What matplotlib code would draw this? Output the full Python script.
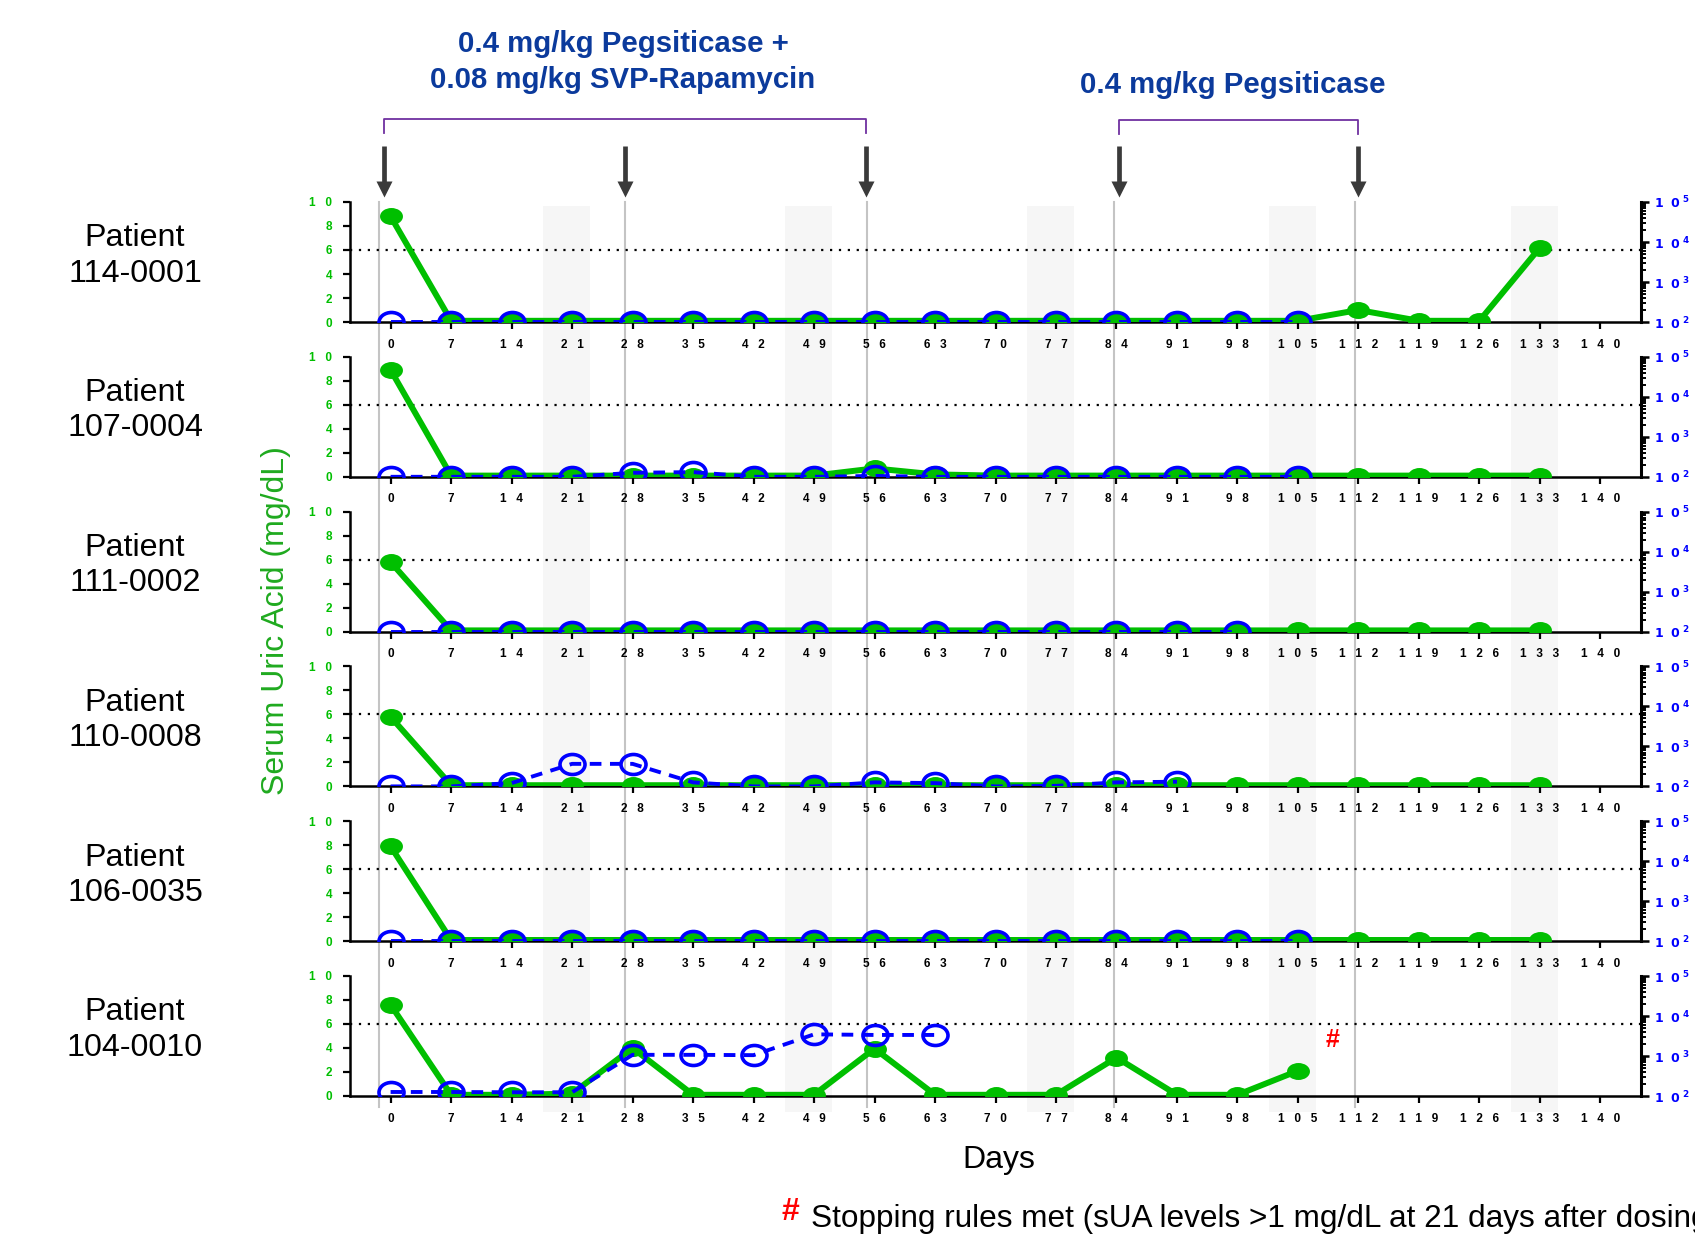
import matplotlib.pyplot as plt
from matplotlib.path import Path
from matplotlib.ticker import NullFormatter

plt.rcParams['font.family'] = ['Liberation Sans', 'DejaVu Sans']

# ---- data ----
patients = ['114-0001', '107-0004', '111-0002', '110-0008', '106-0035', '104-0010']
days = [0, 7, 14, 21, 28, 35, 42, 49, 56, 63, 70, 77, 84, 91, 98, 105, 112, 119, 126, 133]
x_ticks = [0, 7, 14, 21, 28, 35, 42, 49, 56, 63, 70, 77, 84, 91, 98, 105, 112, 119, 126, 133, 140]
dose_days = [0, 28, 56, 84, 112]
shade_days = [21, 49, 77, 105, 133]

# serum uric acid (mg/dL), left axis
sua = [
    [8.8, 0.1, 0.1, 0.1, 0.1, 0.1, 0.1, 0.1, 0.1, 0.1, 0.1, 0.1, 0.1, 0.1, 0.1, 0.1, 1.0, 0.1, 0.1, 6.2],
    [8.9, 0.1, 0.1, 0.1, 0.1, 0.1, 0.1, 0.1, 0.7, 0.2, 0.1, 0.1, 0.1, 0.1, 0.1, 0.1, 0.1, 0.1, 0.1, 0.1],
    [5.8, 0.1, 0.1, 0.1, 0.1, 0.1, 0.1, 0.1, 0.1, 0.1, 0.1, 0.1, 0.1, 0.1, 0.1, 0.1, 0.1, 0.1, 0.1, 0.1],
    [5.8, 0.1, 0.1, 0.1, 0.1, 0.1, 0.1, 0.1, 0.1, 0.1, 0.1, 0.1, 0.1, 0.1, 0.1, 0.1, 0.1, 0.1, 0.1, 0.1],
    [7.9, 0.1, 0.1, 0.1, 0.1, 0.1, 0.1, 0.1, 0.1, 0.1, 0.1, 0.1, 0.1, 0.1, 0.1, 0.1, 0.1, 0.1, 0.1, 0.1],
    [7.6, 0.1, 0.1, 0.2, 4.0, 0.1, 0.1, 0.1, 3.95, 0.1, 0.1, 0.1, 3.2, 0.1, 0.1, 2.1],
]
# anti-drug antibody titer, right (log) axis
titer = [
    [100, 100, 100, 100, 100, 100, 100, 100, 100, 100, 100, 100, 100, 100, 100, 100],
    [100, 100, 100, 100, 126, 131, 100, 100, 105, 100, 100, 100, 100, 100, 100, 100],
    [100, 100, 100, 100, 100, 100, 100, 100, 100, 100, 100, 100, 100, 100, 100],
    [100, 100, 121, 366, 366, 126, 100, 100, 126, 121, 100, 103, 126, 131],
    [100, 100, 100, 100, 100, 100, 100, 100, 100, 100, 100, 100, 100, 100, 100, 100],
    [126, 126, 124, 124, 1070, 1070, 1050, 3480, 3360, 3360],
]

green = '#00bf00'
blue = '#0000ff'
navy = '#0b3a9c'
purple = '#7030a0'

W, H = 1695, 1245
fig = plt.figure(figsize=(W / 100, H / 100), dpi=100)

left_px, right_px = 350, 1641
x0, x1 = -4.7, 144.7
top0, panel_h, step = 202, 120, 154.8
bg_bottom = 1112
# small horizontal nudges of the dose marks, as in the original drawing
arrow_shift = [-0.8, -0.9, -1.0, 0.3, -0.1]
line_shift = [-1.3, -0.9, -0.85, -0.3, -0.35]

# background: shaded weeks, dose lines, arrows, brackets
bg = fig.add_axes([left_px / W, 1 - bg_bottom / H, (right_px - left_px) / W, bg_bottom / H])
bg.set_xlim(x0, x1)
bg.set_ylim(bg_bottom, 0)
bg.axis('off')
for d in shade_days:
    bg.fill_between([d - 3.4, d + 2.1], 206, bg_bottom, color='#f6f6f6', lw=0)
ax_x = []
for d, sa, sl in zip(dose_days, arrow_shift, line_shift):
    bg.plot([d + sl, d + sl], [202, 1107], color='#c4c4c4', lw=1.5)
    bg.plot([d + sa, d + sa], [146, 184], color='#3a3a3a', lw=3.4, solid_capstyle='butt')
    bg.plot(d + sa, 189, marker='v', ms=12, color='#3a3a3a', mec='none')
    ax_x.append(d + sa)

bg.plot([ax_x[0], ax_x[0], ax_x[2], ax_x[2]], [133, 119, 119, 133], color=purple, lw=1.3)
bg.plot([ax_x[3], ax_x[3], ax_x[4], ax_x[4]], [134, 120, 120, 134], color=purple, lw=1.3)

fig.text(623 / W, 1 - 62 / H, '0.4 mg/kg Pegsiticase +\n0.08 mg/kg SVP-Rapamycin',
         ha='center', va='center', fontsize=21.2, fontweight='bold', color=navy, linespacing=1.33)
fig.text(1233 / W, 1 - 85 / H, '0.4 mg/kg Pegsiticase',
         ha='center', va='center', fontsize=21.2, fontweight='bold', color=navy)

# elliptic markers
circ = Path.unit_circle()
ell_green = Path(circ.vertices * [1, 0.74], circ.codes)
ell_blue = Path(circ.vertices * [1, 0.8], circ.codes)

for i, pid in enumerate(patients):
    top = top0 + i * step
    ax = fig.add_axes([left_px / W, 1 - (top + panel_h) / H, (right_px - left_px) / W, panel_h / H])
    ax.patch.set_visible(False)
    ax.set_xlim(x0, x1)
    ax.set_ylim(0, 10)
    ax.axhline(6, color='black', ls=(0, (1, 3)), lw=1.6)
    ax.plot(days[:len(sua[i])], sua[i], color=green, lw=4.3,
            marker=ell_green, ms=16.5, mec='none', mfc=green, zorder=3)

    ax.set_xticks(x_ticks)
    ax.set_xticklabels(['   '.join(str(t)) for t in x_ticks], fontsize=8.5, fontweight='bold')
    ax.set_yticks([0, 2, 4, 6, 8, 10])
    ax.set_yticklabels(['0', '2', '4', '6', '8', '1   0'], fontsize=8.5, fontweight='bold', color=green)
    ax.tick_params(axis='x', length=5, width=1.6, direction='out', pad=7)
    ax.tick_params(axis='y', length=5, width=1.6, direction='out', pad=8)
    for s in ['top', 'right']:
        ax.spines[s].set_visible(False)
    for s in ['left', 'bottom']:
        ax.spines[s].set_linewidth(1.8)

    ax2 = ax.twinx()
    ax2.set_yscale('log')
    ax2.set_ylim(1e2, 1e5)
    ax2.set_xlim(x0, x1)
    ax2.plot(days[:len(titer[i])], titer[i], color=blue, lw=2.8, ls=(0, (3, 2.2)),
             marker=ell_blue, ms=18, mfc='none', mec=blue, mew=2.6)
    ax2.set_yticks([1e2, 1e3, 1e4, 1e5])
    ax2.set_yticklabels([r'$\mathbf{1\ \ 0}^{\ \mathbf{%d}}$' % k for k in [2, 3, 4, 5]],
                        fontsize=9, color=blue)
    ax2.yaxis.set_minor_formatter(NullFormatter())
    ax2.tick_params(axis='y', which='major', length=6, width=1.8, direction='out', pad=3)
    ax2.tick_params(axis='y', which='minor', length=3.5, width=1.4, direction='out')
    for s in ['top', 'left', 'bottom']:
        ax2.spines[s].set_visible(False)
    ax2.spines['right'].set_linewidth(2.2)

    fig.text(135 / W, 1 - (256 + i * step) / H, 'Patient\n' + pid,
             ha='center', va='center', fontsize=23.2, linespacing=1.22)

    if pid == '104-0010':
        ax.text(109, 4.7, '#', color='red', fontsize=18, fontweight='bold', ha='center', va='center')

fig.text(276 / W, 1 - 621 / H, 'Serum Uric Acid (mg/dL)', rotation=90,
         ha='center', va='center', fontsize=23, color='#1faa1f')
fig.text(999 / W, 1 - 1160 / H, 'Days', ha='center', va='center', fontsize=23)
fig.text(781 / W, 1 - 1212 / H, '#', ha='left', va='center', fontsize=23, fontweight='bold', color='red')
fig.text(811 / W, 1 - 1219 / H, 'Stopping rules met (sUA levels >1 mg/dL at 21 days after dosing)',
         ha='left', va='center', fontsize=22.7)

fig.savefig('out.png', dpi=100)
